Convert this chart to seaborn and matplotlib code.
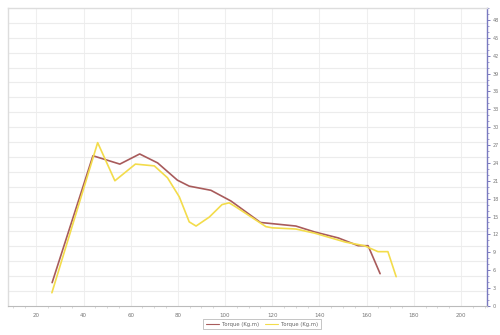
import matplotlib
matplotlib.use("Agg")
import matplotlib.pyplot as plt
from matplotlib.ticker import MultipleLocator
import pandas as pd
import seaborn as sns

# torque curves
rpm_a = [26.7, 44, 55.4, 63.8, 71.4, 79.8, 84.8, 94, 102.5, 115, 130, 138, 148, 156.4, 160.6, 165.7]
torque_a = [3.9, 25.2, 23.8, 25.5, 24.0, 21.1, 20.1, 19.4, 17.6, 14.0, 13.4, 12.4, 11.4, 10.1, 10.1, 5.4]

rpm_b = [26.6, 46, 53.3, 62, 70, 75.6, 80.6, 84.8, 87.7, 93.3, 98.7, 101.7, 104.6, 117.3, 120, 130, 138, 151, 159, 164.8, 169, 172.5]
torque_b = [2.2, 27.4, 21.0, 23.8, 23.5, 21.5, 18.3, 14.1, 13.4, 14.9, 17.0, 17.3, 16.6, 13.3, 13.1, 12.9, 12.2, 10.7, 10.1, 9.1, 9.1, 4.9]

label_a = "Torque (Kg.m)"
label_b = "Torque (Kg.m)"

df_a = pd.DataFrame({"x": rpm_a, "y": torque_a})
df_b = pd.DataFrame({"x": rpm_b, "y": torque_b})

sns.set_style("white")
fig = plt.figure(figsize=(5, 3.35), dpi=100)
ax = fig.add_axes([0.016, 0.087, 0.958, 0.889])

sns.lineplot(data=df_a, x="x", y="y", sort=False, color="#a85b5b", lw=1.2, label=label_a, ax=ax)
sns.lineplot(data=df_b, x="x", y="y", sort=False, color="#f3dc4b", lw=1.2, label=label_b, ax=ax)

ax.set_xlim(8, 211)
ax.set_ylim(0, 50)
ax.set_xlabel("")
ax.set_ylabel("")

# y axis on the right
ax.yaxis.tick_right()
ax.yaxis.set_minor_locator(MultipleLocator(1))
ax.set_yticks([i * 3 for i in range(17)])
ax.xaxis.set_major_locator(MultipleLocator(20))
ax.xaxis.set_minor_locator(MultipleLocator(5))

# grid: vertical every 20, horizontal every 2.5
for v in range(20, 211, 20):
    ax.axvline(v, color="#efefef", lw=0.8, zorder=0)
for h in [i * 2.5 for i in range(1, 20)]:
    ax.axhline(h, color="#ececec", lw=0.8, zorder=0)

for s in ["left", "top"]:
    ax.spines[s].set_color("#dddddd")
    ax.spines[s].set_linewidth(1.0)
ax.spines["bottom"].set_color("#bbbbbb")
ax.spines["right"].set_color("#7a7ac0")
ax.spines["right"].set_linewidth(1.0)

ax.tick_params(axis="y", which="major", right=True, length=2.5, width=0.7,
               color="#7a7ac0", labelsize=3.5, labelcolor="#777777", pad=1.5)
ax.tick_params(axis="y", which="minor", right=True, length=1.3, width=0.5, color="#7a7ac0")
ax.tick_params(axis="x", which="major", bottom=True, length=0, labelsize=4,
               labelcolor="#777777", pad=5)
ax.tick_params(axis="x", which="minor", bottom=True, length=1.5, width=0.5, color="#cccccc")

leg = ax.legend(loc="upper center", bbox_to_anchor=(0.53, -0.035), ncol=2, fontsize=3.8,
                frameon=True, fancybox=False, handlelength=2.5, borderpad=0.5,
                columnspacing=1.2, handletextpad=0.5, labelcolor="#666666")
leg.get_frame().set_edgecolor("#aaaaaa")
leg.get_frame().set_linewidth(0.6)
for line in leg.get_lines():
    line.set_linewidth(0.8)

fig.savefig("out.png", dpi=100)
